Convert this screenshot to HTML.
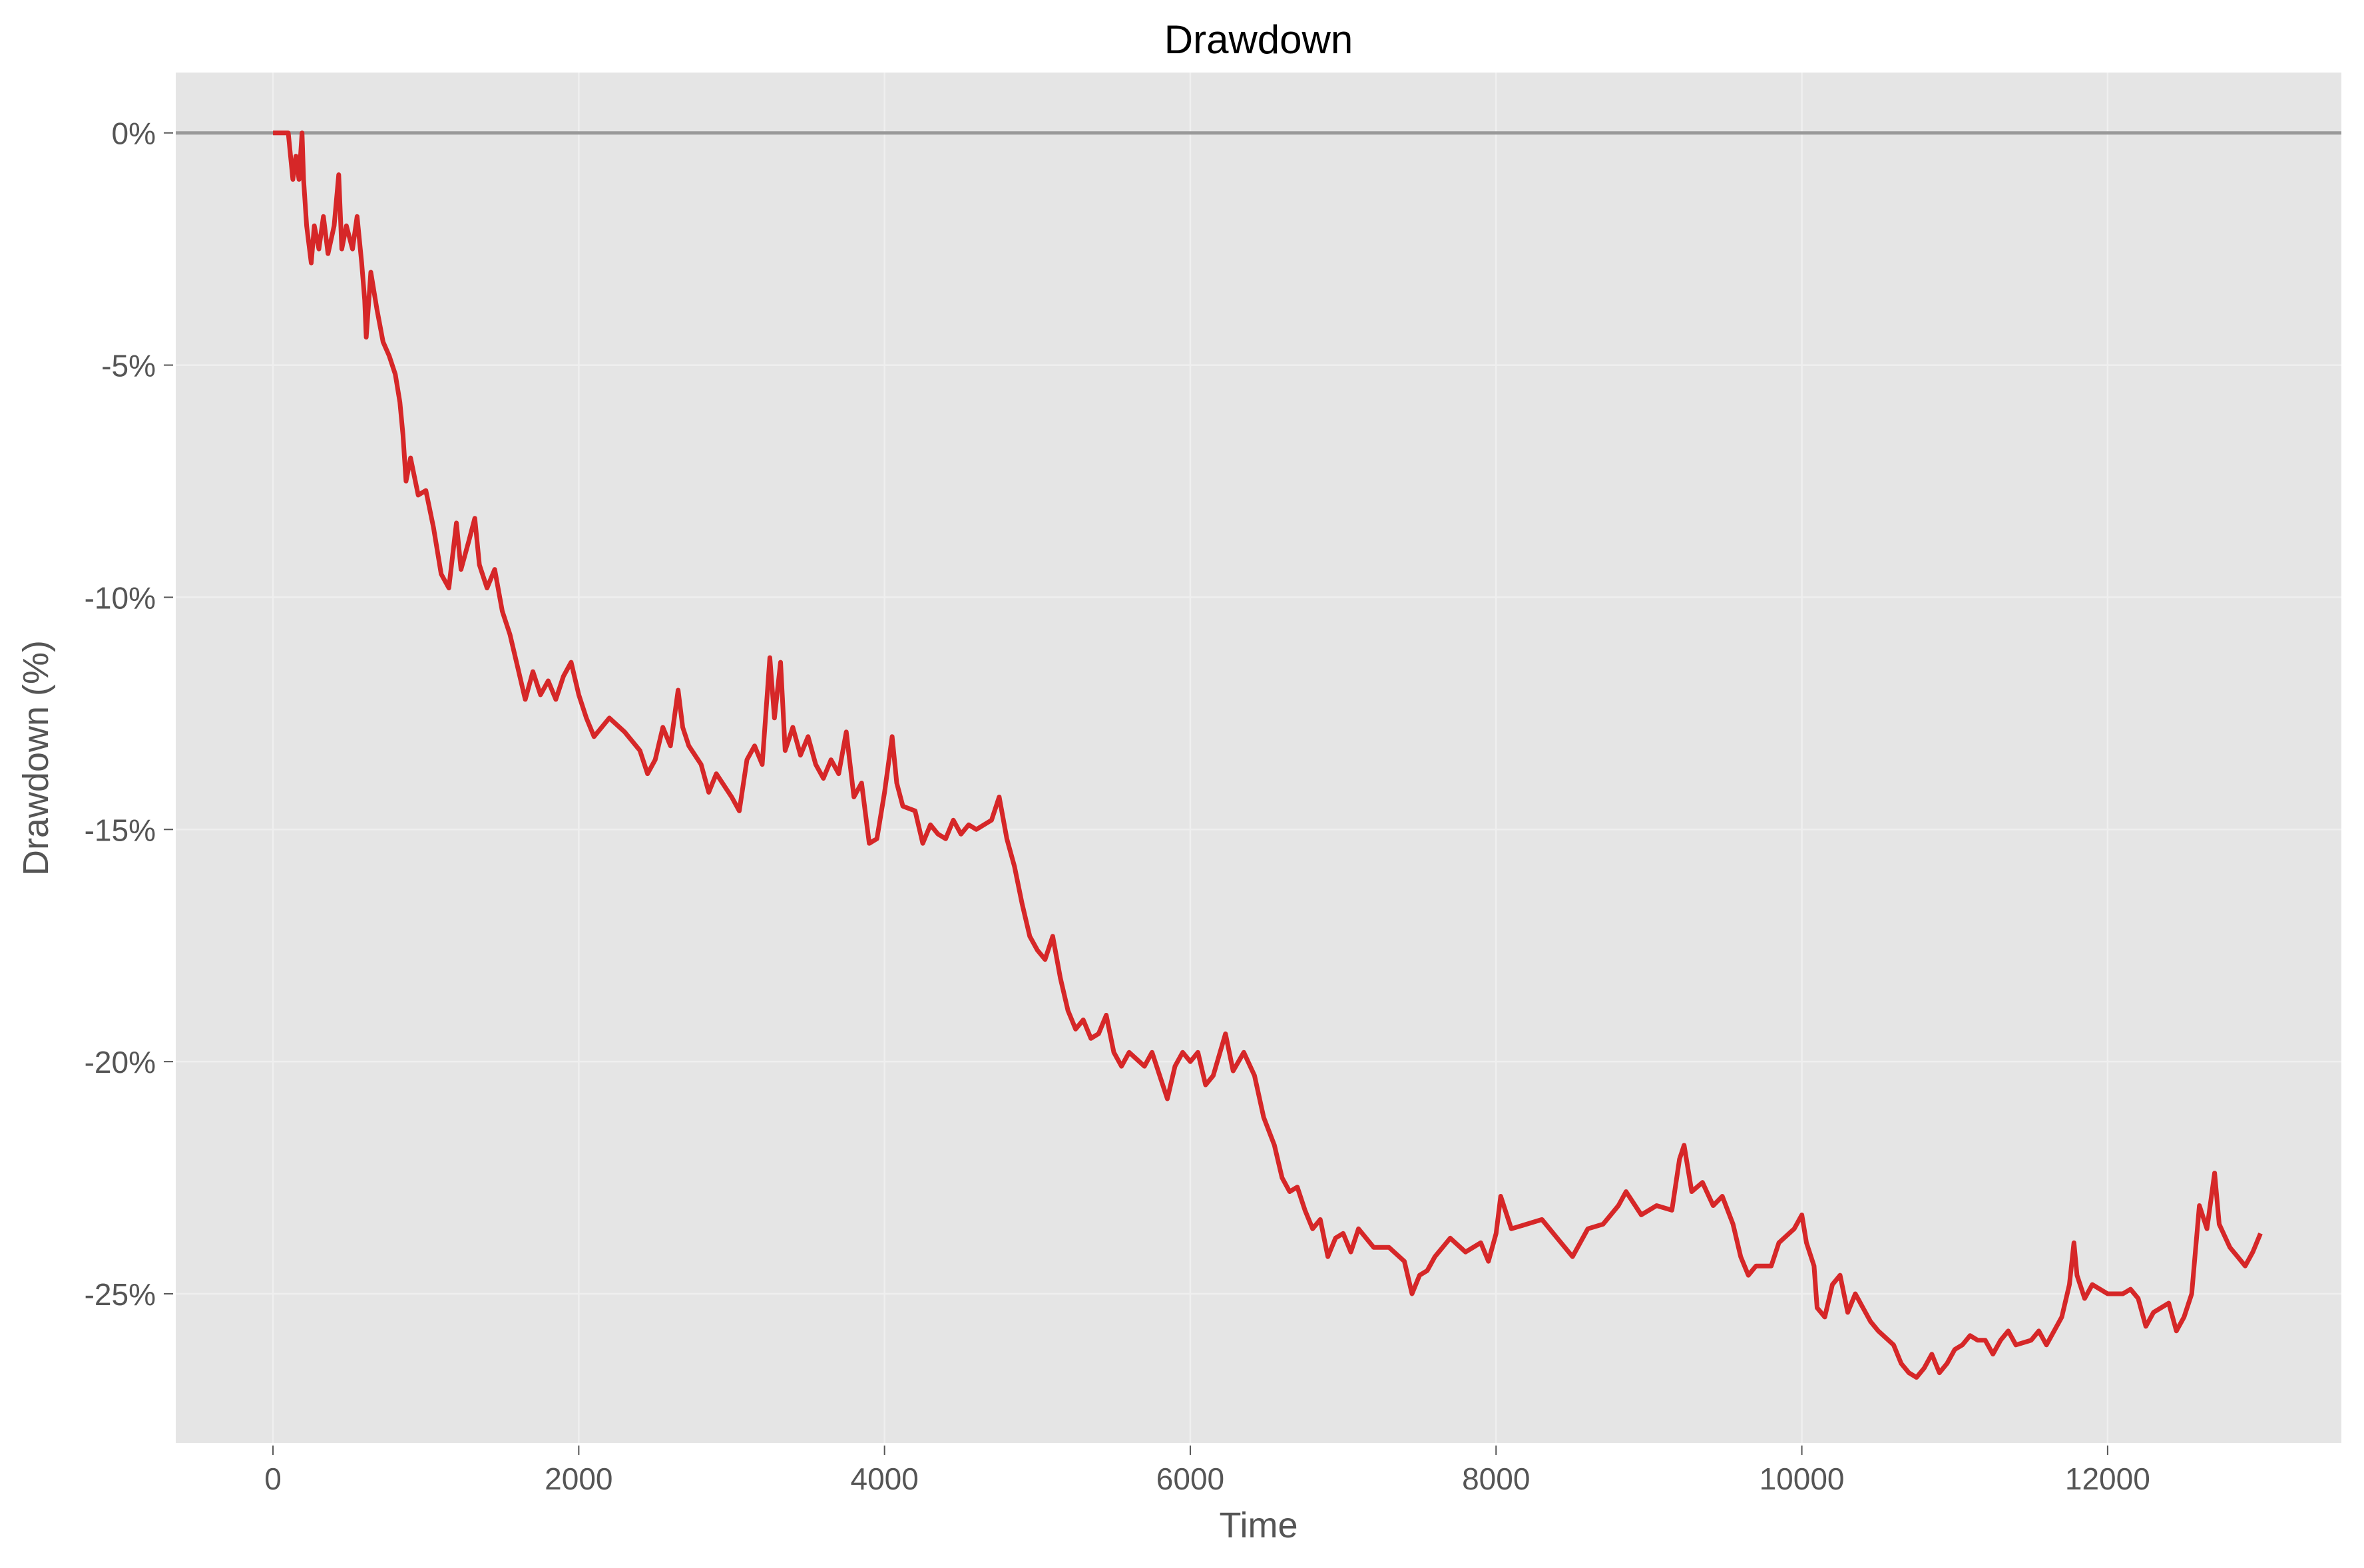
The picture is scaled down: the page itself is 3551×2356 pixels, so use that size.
<!DOCTYPE html>
<html><head><meta charset="utf-8"><style>
html,body{margin:0;padding:0;background:#fff;}
svg text{font-family:"Liberation Sans","DejaVu Sans",sans-serif;}
</style></head><body>
<svg id="chart" width="3551" height="2351" xmlns="http://www.w3.org/2000/svg">
<rect width="3551" height="2351" fill="#fff"/>
<g id="plot"></g>
</svg>
<script>
const times=[0,100,130,150,170,190,200,220,250,270,300,330,360,400,430,450,480,520,550,580,600,610,640,680,720,760,800,830,850,870,900,950,1000,1050,1100,1150,1200,1230,1280,1320,1350,1400,1450,1500,1550,1600,1650,1700,1750,1800,1850,1900,1950,2000,2050,2100,2200,2300,2400,2450,2500,2550,2600,2650,2680,2720,2800,2850,2900,3000,3050,3100,3150,3200,3250,3280,3320,3350,3400,3450,3500,3550,3600,3650,3700,3750,3800,3850,3900,3950,4000,4050,4080,4120,4200,4250,4300,4350,4400,4450,4500,4550,4600,4700,4750,4800,4850,4900,4950,5000,5050,5100,5150,5200,5250,5300,5350,5400,5450,5500,5550,5600,5700,5750,5800,5850,5900,5950,6000,6050,6100,6150,6230,6280,6350,6420,6480,6550,6600,6650,6700,6750,6800,6850,6900,6950,7000,7050,7100,7200,7300,7400,7450,7500,7550,7600,7650,7700,7800,7900,7950,8000,8030,8100,8200,8300,8400,8500,8550,8600,8700,8800,8850,8950,9050,9150,9200,9230,9280,9350,9420,9480,9550,9600,9650,9700,9800,9850,9950,10000,10030,10080,10100,10150,10200,10250,10300,10350,10400,10450,10500,10600,10650,10700,10750,10800,10850,10900,10950,11000,11050,11100,11150,11200,11250,11300,11350,11400,11500,11550,11600,11700,11750,11780,11800,11850,11900,12000,12100,12150,12200,12250,12300,12400,12450,12500,12550,12600,12650,12700,12730,12800,12850,12900,12950,13000];
const drawdown=[0,0,-1,-0.5,-1,0,-1,-2,-2.8,-2,-2.5,-1.8,-2.6,-2,-0.9,-2.5,-2,-2.5,-1.8,-2.8,-3.6,-4.4,-3,-3.8,-4.5,-4.8,-5.2,-5.8,-6.5,-7.5,-7,-7.8,-7.7,-8.5,-9.5,-9.8,-8.4,-9.4,-8.8,-8.3,-9.3,-9.8,-9.4,-10.3,-10.8,-11.5,-12.2,-11.6,-12.1,-11.8,-12.2,-11.7,-11.4,-12.1,-12.6,-13,-12.6,-12.9,-13.3,-13.8,-13.5,-12.8,-13.2,-12,-12.8,-13.2,-13.6,-14.2,-13.8,-14.3,-14.6,-13.5,-13.2,-13.6,-11.3,-12.6,-11.4,-13.3,-12.8,-13.4,-13,-13.6,-13.9,-13.5,-13.8,-12.9,-14.3,-14,-15.3,-15.2,-14.2,-13,-14,-14.5,-14.6,-15.3,-14.9,-15.1,-15.2,-14.8,-15.1,-14.9,-15,-14.8,-14.3,-15.2,-15.8,-16.6,-17.3,-17.6,-17.8,-17.3,-18.2,-18.9,-19.3,-19.1,-19.5,-19.4,-19,-19.8,-20.1,-19.8,-20.1,-19.8,-20.3,-20.8,-20.1,-19.8,-20,-19.8,-20.5,-20.3,-19.4,-20.2,-19.8,-20.3,-21.2,-21.8,-22.5,-22.8,-22.7,-23.2,-23.6,-23.4,-24.2,-23.8,-23.7,-24.1,-23.6,-24,-24,-24.3,-25,-24.6,-24.5,-24.2,-24,-23.8,-24.1,-23.9,-24.3,-23.7,-22.9,-23.6,-23.5,-23.4,-23.8,-24.2,-23.9,-23.6,-23.5,-23.1,-22.8,-23.3,-23.1,-23.2,-22.1,-21.8,-22.8,-22.6,-23.1,-22.9,-23.5,-24.2,-24.6,-24.4,-24.4,-23.9,-23.6,-23.3,-23.9,-24.4,-25.3,-25.5,-24.8,-24.6,-25.4,-25,-25.3,-25.6,-25.8,-26.1,-26.5,-26.7,-26.8,-26.6,-26.3,-26.7,-26.5,-26.2,-26.1,-25.9,-26,-26,-26.3,-26,-25.8,-26.1,-26,-25.8,-26.1,-25.5,-24.8,-23.9,-24.6,-25.1,-24.8,-25,-25,-24.9,-25.1,-25.7,-25.4,-25.2,-25.8,-25.5,-25,-23.1,-23.6,-22.4,-23.5,-24,-24.2,-24.4,-24.1,-23.7];
const xTicks=[0,2000,4000,6000,8000,10000,12000];
const xTickLabels=["0","2000","4000","6000","8000","10000","12000"];
const yTicks=[0,-5,-10,-15,-20,-25];
const yTickLabels=["0%","-5%","-10%","-15%","-20%","-25%"];

const L=264,R=3517,T=109,B=2168;
const xMin=-636,xMax=13529,yMin=-28.21,yMax=1.3;
function sx(v){return L+(v-xMin)/(xMax-xMin)*(R-L);}
function sy(v){return T+(yMax-v)/(yMax-yMin)*(B-T);}
const NS="http://www.w3.org/2000/svg";
const svg=document.getElementById('chart');
function mk(tag,attrs,parent){const e=document.createElementNS(NS,tag);for(const k in attrs)e.setAttribute(k,attrs[k]);(parent||svg).appendChild(e);return e;}

const bg=mk('rect',{x:L,y:T,width:R-L,height:B-T,fill:'#e5e5e5'});



xTicks.forEach((t,i)=>{
  const x=sx(t);
  const g=mk('line',{x1:x,x2:x,y1:T,y2:B,stroke:'#efefef','stroke-width':2.5});
  
  
  const tk=mk('line',{x1:x,x2:x,y1:B+4,y2:B+18,stroke:'#555','stroke-width':2});
  
  
  const tx=mk('text',{x:x,y:B+70,'font-size':46,fill:'#555','text-anchor':'middle'});
  tx.textContent=xTickLabels[i];
  
  
});
yTicks.forEach((t,i)=>{
  const y=sy(t);
  const g=mk('line',{x1:L,x2:R,y1:y,y2:y,stroke:'#efefef','stroke-width':2.5});
  
  
  const tk=mk('line',{x1:L-18,x2:L-4,y1:y,y2:y,stroke:'#555','stroke-width':2});
  
  
  const tx=mk('text',{x:L-30,y:y+17,'font-size':46,fill:'#555','text-anchor':'end'});
  tx.textContent=yTickLabels[i];
  
  
});

const zl=mk('line',{x1:L,x2:R,y1:sy(0),y2:sy(0),stroke:'#999','stroke-width':5});



const pts=times.map((t,i)=>sx(t).toFixed(1)+','+sy(drawdown[i]).toFixed(1)).join(' ');
const line=mk('polyline',{points:pts,fill:'none',stroke:'#d62728','stroke-width':7,'stroke-linejoin':'round'});



const title=mk('text',{x:(L+R)/2,y:80,'font-size':60,fill:'#000','text-anchor':'middle'});
title.textContent='Drawdown';



const xl=mk('text',{x:(L+R)/2,y:2310,'font-size':54,fill:'#555','text-anchor':'middle'});
xl.textContent='Time';



const yl=mk('text',{x:0,y:0,'font-size':54,fill:'#555','text-anchor':'middle',transform:'translate(72,1139) rotate(-90)'});
yl.textContent='Drawdown (%)';


</script>
</body></html>
